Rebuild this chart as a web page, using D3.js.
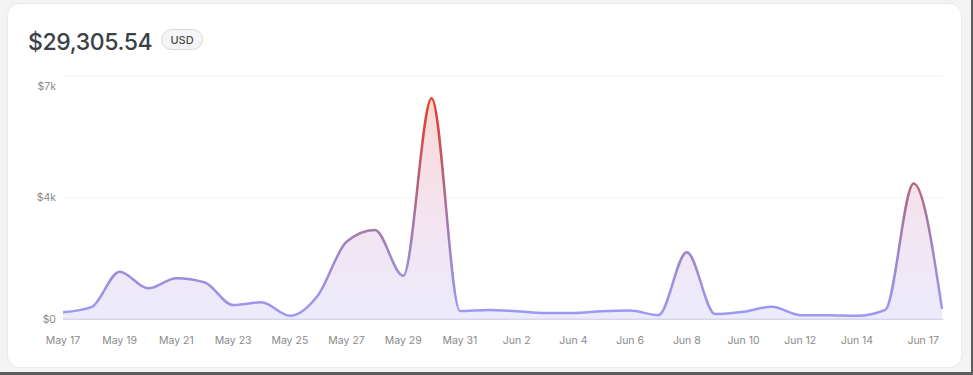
<!DOCTYPE html>
<html>
<head>
<meta charset="utf-8">
<script src="https://cdn.jsdelivr.net/npm/d3@7"></script>
<style>
  html, body { margin: 0; padding: 0; background: #f3f3f3; }
  svg { display: block; font-family: Inter, "Noto Sans", sans-serif; }
</style>
</head>
<body>
<svg id="chart" width="973" height="375"></svg>
<script>
const dates = ["May 17","May 18","May 19","May 20","May 21","May 22","May 23","May 24","May 25","May 26",
  "May 27","May 28","May 29","May 30","May 31","Jun 1","Jun 2","Jun 3","Jun 4","Jun 5","Jun 6","Jun 7",
  "Jun 8","Jun 9","Jun 10","Jun 11","Jun 12","Jun 13","Jun 14","Jun 15","Jun 16","Jun 17"];
const revenue = [200,350,1370,890,1180,1060,410,490,100,700,
  2230,2570,1250,6360,240,270,230,180,180,230,250,120,
  1930,150,220,360,120,120,100,270,3910,300];
const xTickLabels = ["May 17","May 19","May 21","May 23","May 25","May 27","May 29","May 31",
  "Jun 2","Jun 4","Jun 6","Jun 8","Jun 10","Jun 12","Jun 14","Jun 17"];
const yTicks = [0, 3500, 7000];
const totalLabel = "$29,305.54";
const currency = "USD";

const svg = d3.select("#chart");
const W = 973, H = 375;

// outer frame lines (screenshot edge)
svg.append("rect").attr("x", 0).attr("y", 0).attr("width", W).attr("height", H).attr("fill", "#f3f3f3");
svg.append("rect").attr("x", 971).attr("y", 0).attr("width", 2).attr("height", H).attr("fill", "#5c5c5c");
svg.append("rect").attr("x", 0).attr("y", 372).attr("width", W).attr("height", 3).attr("fill", "#5c5c5c");

// card
svg.append("rect").attr("x", 7.5).attr("y", 3.5).attr("width", 954).attr("height", 364)
  .attr("rx", 12).attr("fill", "#ffffff").attr("stroke", "#e9e9e9").attr("stroke-width", 1);

// header
svg.append("text").attr("x", 28).attr("y", 50).text(totalLabel)
  .attr("font-size", 23).attr("font-weight", 500).attr("fill", "#3b3f46").attr("letter-spacing", -0.4);
svg.append("rect").attr("x", 161.5).attr("y", 29.5).attr("width", 41).attr("height", 20).attr("rx", 10)
  .attr("fill", "#f5f5f5").attr("stroke", "#d9d9d9");
svg.append("text").attr("x", 182).attr("y", 43.5).attr("text-anchor", "middle").text(currency)
  .attr("font-size", 11).attr("font-weight", 500).attr("fill", "#4a4a4a");

// scales
const x = d3.scalePoint().domain(dates).range([63, 942]);
const y = d3.scaleLinear().domain([0, 7000]).range([319.3, 76]);

// gridlines
svg.append("g").selectAll("line").data(yTicks.filter(d => d > 0)).join("line")
  .attr("x1", 63).attr("x2", 943).attr("y1", d => y(d)).attr("y2", d => y(d))
  .attr("stroke", "#f1f1f1").attr("stroke-width", 1);

// y labels
const fmt = d => d === 0 ? "$0" : "$" + Math.round(d / 1000) + "k";
svg.append("g").selectAll("text").data(yTicks).join("text")
  .attr("x", 56).attr("y", d => Math.max(y(d), y(7000) + 10)).attr("dy", "0.35em")
  .attr("text-anchor", "end").attr("font-size", 10.5).attr("fill", "#8a8a8a").text(fmt);

// gradients
const defs = svg.append("defs");
const lg = defs.append("linearGradient").attr("id", "lineGrad").attr("gradientUnits", "userSpaceOnUse")
  .attr("x1", 0).attr("x2", 0).attr("y1", y(0)).attr("y2", y(6400));
lg.append("stop").attr("offset", "0%").attr("stop-color", "#9d9af6");
lg.append("stop").attr("offset", "30%").attr("stop-color", "#9c86c8");
lg.append("stop").attr("offset", "60%").attr("stop-color", "#b0657e");
lg.append("stop").attr("offset", "100%").attr("stop-color", "#ea3a22");
const ag = defs.append("linearGradient").attr("id", "areaGrad").attr("gradientUnits", "userSpaceOnUse")
  .attr("x1", 0).attr("x2", 0).attr("y1", y(0)).attr("y2", y(6400));
ag.append("stop").attr("offset", "0%").attr("stop-color", "#ecebfc");
ag.append("stop").attr("offset", "45%").attr("stop-color", "#f3e4f0");
ag.append("stop").attr("offset", "100%").attr("stop-color", "#fcd9d6");

const area = d3.area().x((d, i) => x(dates[i])).y0(y(0)).y1(d => y(d)).curve(d3.curveMonotoneX);
const line = d3.line().x((d, i) => x(dates[i])).y(d => y(d)).curve(d3.curveMonotoneX);

svg.append("path").datum(revenue).attr("d", area).attr("fill", "url(#areaGrad)");

// baseline
svg.append("line").attr("x1", 63).attr("x2", 943).attr("y1", y(0)).attr("y2", y(0))
  .attr("stroke", "#d8d7ea").attr("stroke-width", 1.5);

svg.append("path").datum(revenue).attr("d", line).attr("fill", "none")
  .attr("stroke", "url(#lineGrad)").attr("stroke-width", 2.5).attr("stroke-linejoin", "round");

// x labels
const last = xTickLabels[xTickLabels.length - 1];
svg.append("g").selectAll("text").data(xTickLabels).join("text")
  .attr("x", d => d === last ? x(d) - 3 : x(d))
  .attr("y", 340).attr("dy", "0.35em")
  .attr("text-anchor", d => d === last ? "end" : "middle")
  .attr("font-size", 10.5).attr("fill", "#8a8a8a").text(d => d);
</script>
</body>
</html>
